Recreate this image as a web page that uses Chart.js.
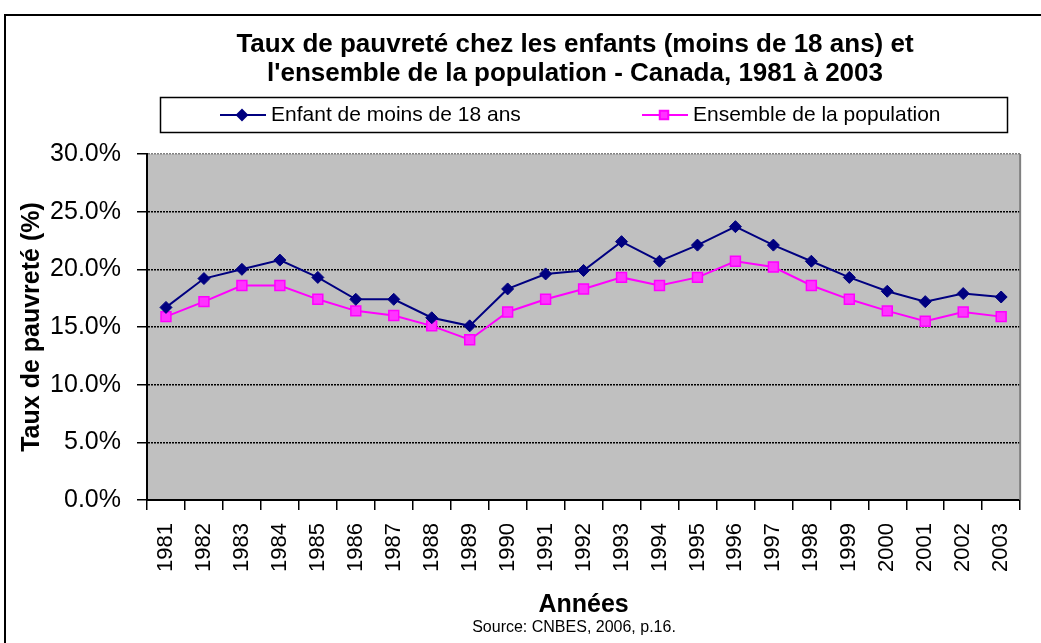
<!DOCTYPE html>
<html>
<head>
<meta charset="utf-8">
<script src="https://cdn.jsdelivr.net/npm/chart.js@4/dist/chart.umd.min.js"></script>
<style>
  body { margin: 0; background: #fff; }
  canvas { display: block; }
</style>
</head>
<body>
<canvas id="povertyChart" width="1041" height="643"></canvas>
<script>
// ── DATA ──
const years = ['1981', '1982', '1983', '1984', '1985', '1986', '1987', '1988', '1989', '1990', '1991', '1992',
  '1993', '1994', '1995', '1996', '1997', '1998', '1999', '2000', '2001', '2002', '2003'];
const childRates = [16.7, 19.2, 20.0, 20.8, 19.3, 17.4, 17.4, 15.8, 15.1, 18.3, 19.6, 19.9,
  22.4, 20.7, 22.1, 23.7, 22.1, 20.7, 19.3, 18.1, 17.2, 17.9, 17.6];
const popRates = [15.9, 17.2, 18.6, 18.6, 17.4, 16.4, 16.0, 15.1, 13.9, 16.3, 17.4, 18.3,
  19.3, 18.6, 19.3, 20.7, 20.2, 18.6, 17.4, 16.4, 15.5, 16.3, 15.9];
const seriesLabels = ['Enfant de moins de 18 ans', 'Ensemble de la population'];
const titleLines = ['Taux de pauvreté chez les enfants (moins de 18 ans) et', "l'ensemble de la population - Canada, 1981 à 2003"];
const sourceText = 'Source: CNBES, 2006, p.16.';

const NAVY = '#000080';
const PINK = '#FF00FF';
const FONT = '"Liberation Sans", Arial, sans-serif';

// ── FRAME / TITLE / LEGEND ──
const framePlugin = {
  id: 'frame',
  beforeDraw(chart) {
    const { ctx, chartArea: a } = chart;
    ctx.save();
    ctx.fillStyle = '#fff';
    ctx.fillRect(0, 0, chart.width, chart.height);
    ctx.fillStyle = '#C0C0C0';
    ctx.fillRect(a.left, a.top, a.right - a.left, a.bottom - a.top);
    ctx.restore();
  },
  afterDraw(chart) {
    const { ctx, chartArea: a } = chart;
    ctx.save();

    // outer border
    ctx.strokeStyle = '#000';
    ctx.lineWidth = 2;
    ctx.beginPath();
    ctx.moveTo(5, chart.height + 5);
    ctx.lineTo(5, 15);
    ctx.lineTo(chart.width + 5, 15);
    ctx.stroke();

    // right edge of plot
    ctx.strokeStyle = '#808080';
    ctx.lineWidth = 2;
    ctx.beginPath();
    ctx.moveTo(a.right, a.top);
    ctx.lineTo(a.right, a.bottom);
    ctx.stroke();

    // title
    ctx.fillStyle = '#000';
    ctx.textAlign = 'center';
    ctx.textBaseline = 'middle';
    ctx.font = 'bold 26px ' + FONT;
    ctx.fillText(titleLines[0], 575, 45);
    ctx.fillText(titleLines[1], 575, 74);

    // source
    ctx.font = '16px ' + FONT;
    ctx.fillText(sourceText, 574, 628);

    // legend box
    ctx.strokeStyle = '#000';
    ctx.lineWidth = 1.5;
    ctx.strokeRect(160.5, 97.5, 847, 35);

    const itemX = [220, 642];
    const ly = 115;
    chart.data.datasets.forEach((ds, i) => {
      const x0 = itemX[i];
      ctx.strokeStyle = ds.borderColor;
      ctx.lineWidth = 2;
      ctx.beginPath();
      ctx.moveTo(x0, ly);
      ctx.lineTo(x0 + 46, ly);
      ctx.stroke();
      ctx.fillStyle = ds.pointBackgroundColor;
      ctx.strokeStyle = ds.pointBorderColor;
      Chart.helpers.drawPoint(ctx, {
        pointStyle: ds.pointStyle,
        radius: ds.pointRadius - 1,
        borderWidth: 1
      }, x0 + 22, ly);
      ctx.fillStyle = '#000';
      ctx.textAlign = 'left';
      ctx.font = '21px ' + FONT;
      ctx.fillText(ds.label, x0 + 51, ly);
    });
    ctx.restore();
  }
};

// ── LINE CHART ──
window.addEventListener('DOMContentLoaded', () => {
  const ctx = document.getElementById('povertyChart').getContext('2d');
  new Chart(ctx, {
    type: 'line',
    data: {
      labels: years,
      datasets: [
        {
          label: seriesLabels[0],
          data: childRates,
          borderColor: NAVY,
          backgroundColor: NAVY,
          pointBackgroundColor: NAVY,
          pointBorderColor: NAVY,
          pointStyle: 'rectRot',
          pointRadius: 6,
          pointBorderWidth: 1,
          borderWidth: 2,
          tension: 0,
        },
        {
          label: seriesLabels[1],
          data: popRates,
          borderColor: PINK,
          backgroundColor: PINK,
          pointBackgroundColor: '#FF33FF',
          pointBorderColor: PINK,
          pointStyle: 'rect',
          pointRadius: 7,
          pointBorderWidth: 1.5,
          borderWidth: 2,
          tension: 0,
        },
      ],
    },
    options: {
      responsive: false,
      animation: false,
      devicePixelRatio: 1,
      layout: { padding: { top: 154, left: 0, right: 20, bottom: 20 } },
      plugins: {
        legend: { display: false },
        title: { display: false },
        tooltip: { enabled: false },
      },
      scales: {
        x: {
          offset: true,
          afterFit: s => { s.height = 123; },
          grid: { offset: true, drawOnChartArea: false, tickLength: 10, color: '#000', lineWidth: 1.5 },
          border: { color: '#000', width: 2 },
          ticks: {
            color: '#000',
            minRotation: 90,
            maxRotation: 90,
            padding: 13,
            autoSkip: false,
            font: { family: FONT, size: 22 },
          },
          title: {
            display: true,
            text: 'Années',
            color: '#000',
            padding: { top: 0, bottom: 3 },
            font: { family: FONT, size: 25, weight: 'bold' },
          },
        },
        y: {
          min: 0,
          max: 30,
          afterFit: s => { s.width = 147; },
          grid: {
            color: c => (c.tick && c.tick.value === 30 ? '#808080' : '#000'),
            tickColor: '#000',
            tickLength: 10,
            tickWidth: 1.5,
            lineWidth: 1.5,
          },
          border: { color: '#000', width: 2, dash: [2, 1] },
          ticks: {
            stepSize: 5,
            color: '#000',
            padding: 16,
            callback: v => v.toFixed(1) + '%',
            font: { family: FONT, size: 25 },
          },
          title: {
            display: true,
            text: 'Taux de pauvreté (%)',
            color: '#000',
            padding: { top: 17, bottom: 0 },
            font: { family: FONT, size: 25, weight: 'bold' },
          },
        },
      },
    },
    plugins: [framePlugin],
  });
});
</script>
</body>
</html>
